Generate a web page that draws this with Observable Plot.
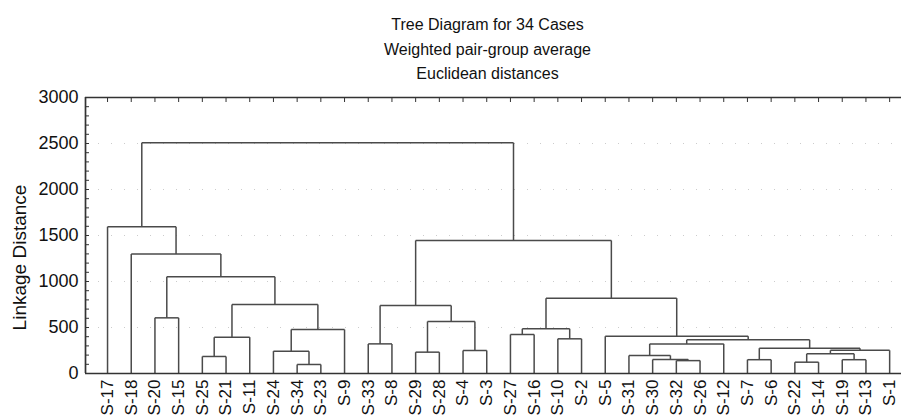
<!DOCTYPE html>
<html><head><meta charset="utf-8">
<script src="https://cdn.jsdelivr.net/npm/d3@7"></script>
<script src="https://cdn.jsdelivr.net/npm/@observablehq/plot@0.6"></script>
<style>body{margin:0;background:#fff} svg{display:block}</style>
</head><body><div id="chart"></div>
<script>
const titleLines = ["Tree Diagram for 34 Cases", "Weighted pair-group average", "Euclidean distances"];
const yLabel = "Linkage Distance";
const leaves = ["S-17","S-18","S-20","S-15","S-25","S-21","S-11","S-24","S-34","S-23","S-9","S-33","S-8","S-29","S-28","S-4","S-3","S-27","S-16","S-10","S-2","S-5","S-31","S-30","S-32","S-26","S-12","S-7","S-6","S-22","S-14","S-19","S-13","S-1"];
// merge k joins mergeLeft[k] and mergeRight[k] at mergeHeight[k]; "#k" refers to cluster from merge k
const mergeLeft  = ["S-34","S-22","S-32","S-30","S-7","S-19","S-25","S-31","#1","S-29","S-24","S-4","#8","#4","S-33","#7","#15","S-10","#6","S-5","S-27","#10","#20","#9","S-20","#14","#18","#22","#24","S-18","#25","S-17","#31"];
const mergeRight = ["S-23","S-14","S-26","#2","S-6","S-13","S-21","#3","#5","S-28","#0","S-3","S-1","#12","S-8","S-12","#13","S-2","S-11","#16","S-16","S-9","#17","#11","S-15","#23","#21","#19","#26","#28","#27","#29","#30"];
const mergeHeight = [98,123,140,152,150,150,185,196,214,232,243,250,252,275,322,322,366,377,395,406,424,478,486,565,605,739,750,819,1052,1300,1446,1595,2508];
const yTicks = [0,500,1000,1500,2000,2500,3000];
const yMinorTicks = d3.range(0, 3001, 100);

const nodeX = new Map(), nodeY = new Map();
leaves.forEach((d, i) => { nodeX.set(d, i); nodeY.set(d, 0); });
const segments = [];
mergeHeight.forEach((h, k) => {
  const a = mergeLeft[k], b = mergeRight[k];
  const xa = nodeX.get(a), xb = nodeX.get(b);
  segments.push({x1: xa, y1: nodeY.get(a), x2: xa, y2: h});
  segments.push({x1: xb, y1: nodeY.get(b), x2: xb, y2: h});
  segments.push({x1: xa, y1: h, x2: xb, y2: h});
  nodeX.set("#" + k, (xa + xb) / 2); nodeY.set("#" + k, h);
});
const idx = leaves.map((d, i) => i);
const xDomain = [-0.93, 33.5];
const axisColor = "#333";

const chart = Plot.plot({
  width: 901, height: 418,
  marginTop: 97, marginBottom: 45, marginLeft: 85, marginRight: 0,
  style: {fontFamily: "'Liberation Sans', Arial, sans-serif", color: "#111", background: "#fff", overflow: "visible"},
  x: {domain: xDomain},
  y: {domain: [0, 3000]},
  marks: [
    Plot.gridY(yTicks.slice(1, -1), {stroke: "#aaa", strokeOpacity: 0.6, strokeDasharray: "1,12"}),
    Plot.link(segments, {x1: "x1", y1: "y1", x2: "x2", y2: "y2", stroke: "#4a4a4a", strokeWidth: 1.5}),
    Plot.ruleY([0, 3000], {stroke: axisColor, strokeWidth: 1.7}),
    Plot.ruleX([xDomain[0]], {stroke: axisColor, strokeWidth: 1.7}),
    Plot.axisY(yMinorTicks, {anchor: "left", tickSize: 4, dx: 4, fill: "none", stroke: axisColor, label: null}),
    Plot.axisX(idx, {anchor: "top", tickSize: 4, dy: 4, fill: "none", stroke: axisColor, label: null}),
    Plot.axisY(yTicks, {anchor: "left", tickSize: 0, tickPadding: 7, fontSize: 18, tickFormat: "d", label: null}),
    Plot.axisX(idx, {anchor: "bottom", tickSize: 0, tickPadding: 6, tickRotate: -90, tickFormat: i => leaves[i], fontSize: 17, label: null}),
    Plot.text([yLabel], {frameAnchor: "left", textAnchor: "middle", text: d => d, rotate: -90, dx: -66, dy: 22, fontSize: 19}),
    Plot.text([titleLines[0]], {frameAnchor: "top", text: d => d, dy: -79, dx: -6, fontSize: 16}),
    Plot.text([titleLines[1]], {frameAnchor: "top", text: d => d, dy: -54, dx: -6, fontSize: 16}),
    Plot.text([titleLines[2]], {frameAnchor: "top", text: d => d, dy: -30, dx: -6, fontSize: 16})
  ]
});
document.getElementById("chart").append(chart);
</script>
</body></html>
